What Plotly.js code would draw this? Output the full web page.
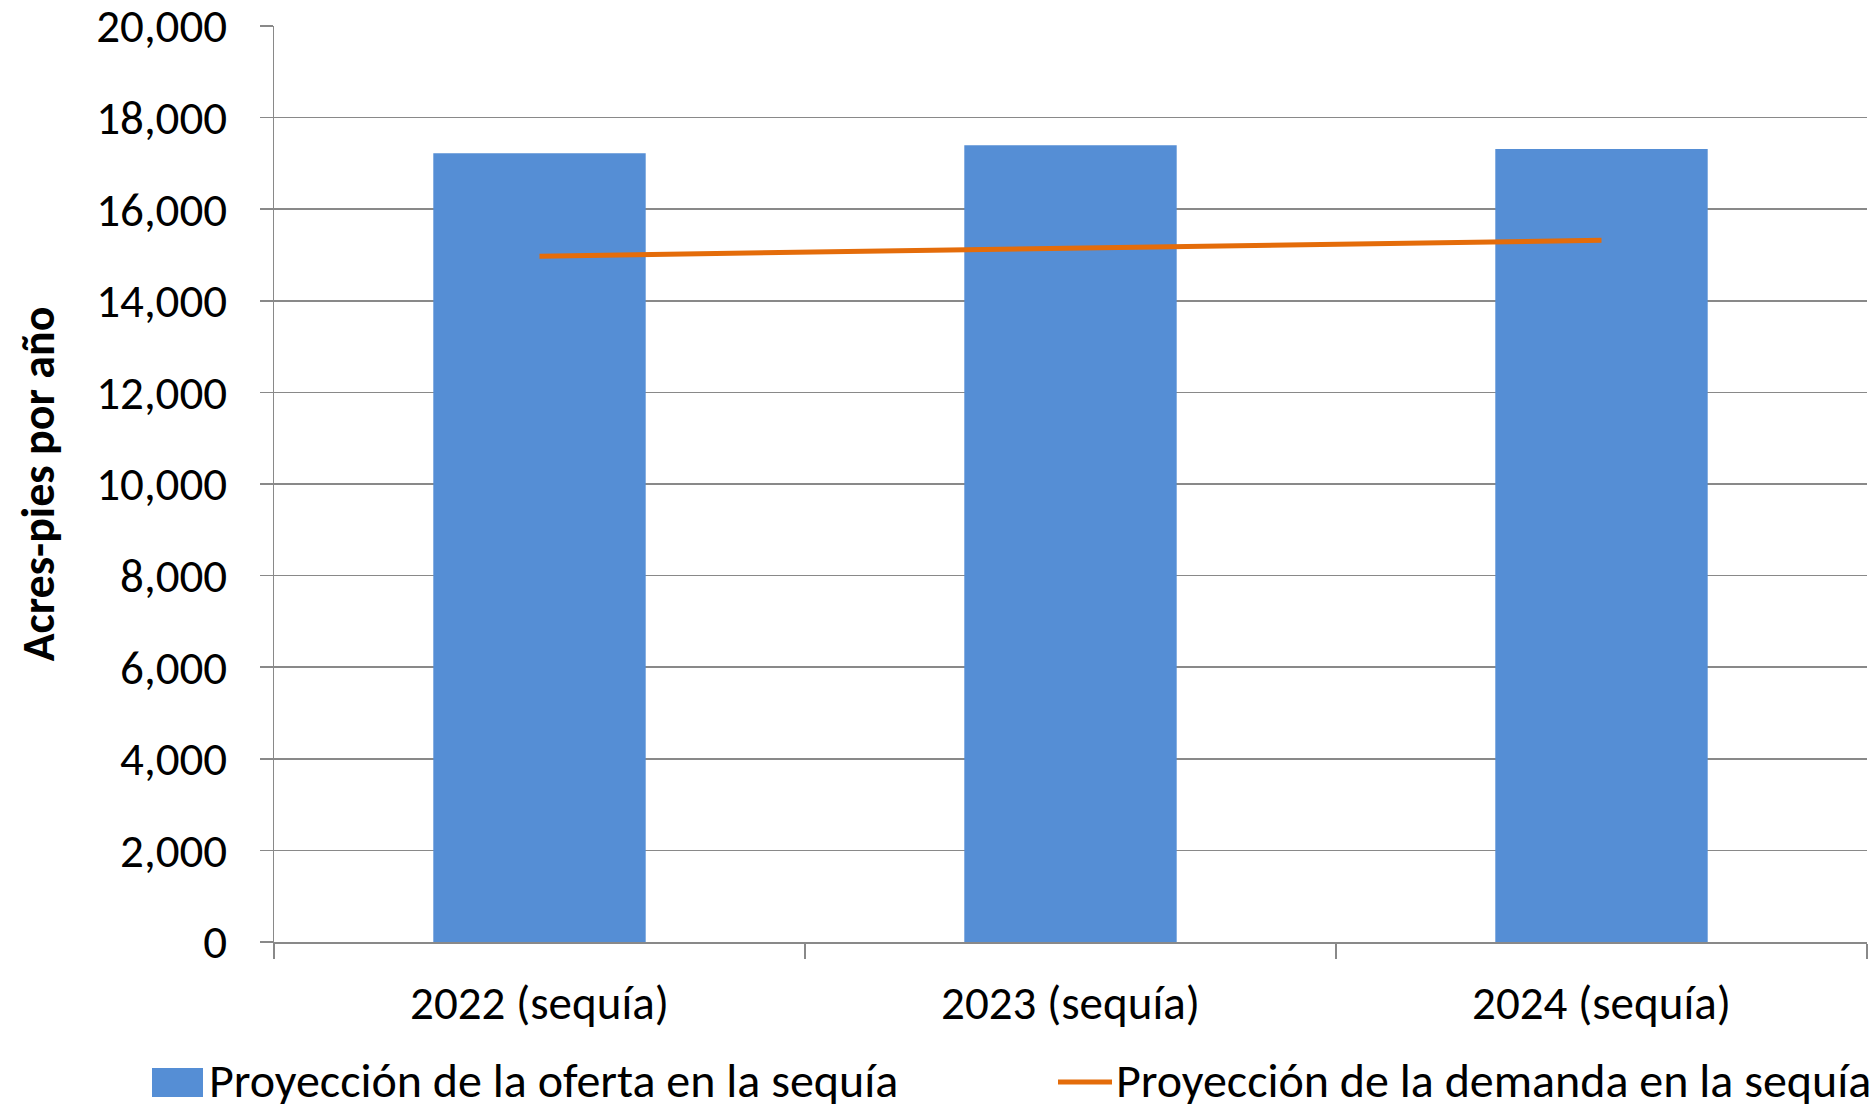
<!DOCTYPE html>
<html>
<head>
<meta charset="utf-8">
<script src="https://cdn.plot.ly/plotly-3.0.1.min.js"></script>
<style>html,body{margin:0;padding:0;background:#fff;}#chart{width:1875px;height:1104px;}</style>
</head>
<body>
<div id="chart"></div>
<script>
const categories = ["2022 (sequía)", "2023 (sequía)", "2024 (sequía)"];
const supplyValues = [17220, 17395, 17315];
const demandValues = [14975, 15150, 15320];
const supplyName = "Proyección de la oferta en la sequía";
const demandName = "Proyección de la demanda en la sequía";
const yTitle = "Acres-pies por año";

const W = 1875, H = 1104;
const L = 274, R = 1867, T = 26, B = 942;
const FONT = "Carlito, Calibri, Lato, sans-serif";
const FS = 47;
const GRID = "#898989";
const BLUE = "#558ED5";
const ORANGE = "#E46C0A";
function px2x(p) { return (p - L) / (R - L); }
function py2y(p) { return (B - p) / (B - T); }

const traces = [
  {
    type: "bar", name: supplyName, x: categories, y: supplyValues,
    marker: {color: BLUE}, width: 0.4, showlegend: false, hoverinfo: "x+y"
  },
  {
    type: "scatter", mode: "lines", name: demandName, x: categories, y: demandValues,
    line: {color: ORANGE, width: 5}, showlegend: false, hoverinfo: "x+y"
  }
];

const layout = {
  width: W, height: H,
  margin: {l: L, r: W - R, t: T, b: H - B},
  paper_bgcolor: "#fff", plot_bgcolor: "#fff",
  font: {family: FONT, size: FS, color: "#000"},
  showlegend: false,
  xaxis: {
    type: "category", range: [-0.5, 2.5],
    showline: true, linecolor: GRID, linewidth: 1.5,
    ticks: "outside", tickson: "boundaries", ticklen: 15, tickcolor: GRID, tickwidth: 1.5,
    showgrid: false, zeroline: false,
    tickfont: {family: FONT, size: FS, color: "#000"},
    ticklabelstandoff: 19,
    ticklabeloverflow: "allow",
    fixedrange: true
  },
  yaxis: {
    range: [0, 20000], dtick: 2000, tick0: 0, tickformat: ",d",
    showline: true, linecolor: GRID, linewidth: 1.5,
    ticks: "outside", ticklen: 13, tickcolor: GRID, tickwidth: 1.5,
    showgrid: true, gridcolor: GRID, gridwidth: 1.5, zeroline: false,
    tickfont: {family: FONT, size: FS, color: "#000"},
    ticklabelstandoff: 23,
    ticklabeloverflow: "allow",
    title: {text: yTitle, font: {family: FONT, size: 46, color: "#000", weight: "bold"}, standoff: 27},
    automargin: false,
    fixedrange: true
  },
  shapes: [
    {type: "rect", xref: "paper", yref: "paper",
     x0: px2x(152), x1: px2x(203), y0: py2y(1097), y1: py2y(1068),
     fillcolor: BLUE, line: {width: 0}},
    {type: "line", xref: "paper", yref: "paper",
     x0: px2x(1058), x1: px2x(1112), y0: py2y(1082), y1: py2y(1082),
     line: {color: ORANGE, width: 5}}
  ],
  annotations: [
    {xref: "paper", yref: "paper", x: px2x(208), y: py2y(1080), xanchor: "left", yanchor: "middle",
     text: supplyName, showarrow: false, borderpad: 0, font: {family: FONT, size: 48, color: "#000"}},
    {xref: "paper", yref: "paper", x: px2x(1115), y: py2y(1080), xanchor: "left", yanchor: "middle",
     text: demandName, showarrow: false, borderpad: 0, font: {family: FONT, size: 48, color: "#000"}}
  ]
};

Plotly.newPlot("chart", traces, layout, {displayModeBar: false, staticPlot: true});
</script>
</body>
</html>
